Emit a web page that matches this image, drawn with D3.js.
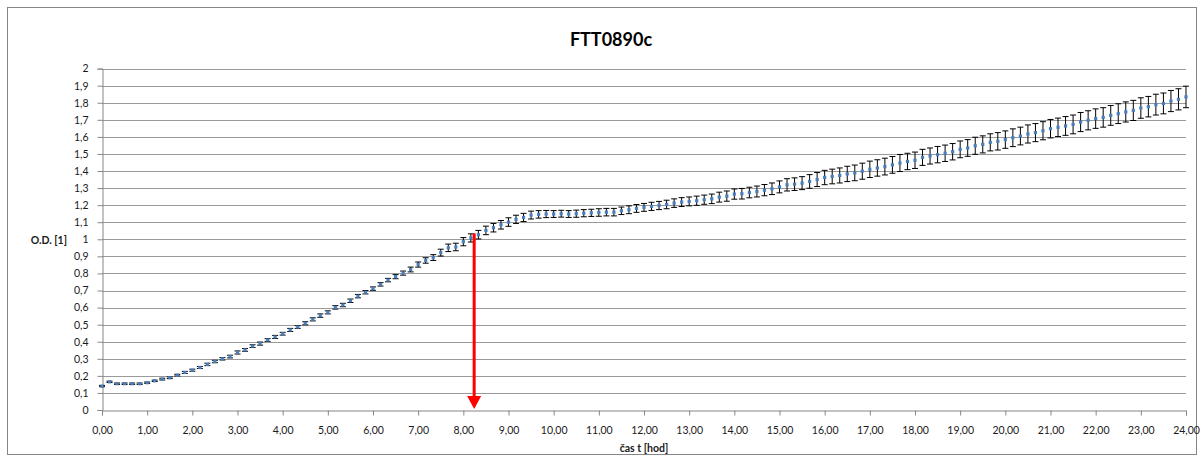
<!DOCTYPE html>
<html><head><meta charset="utf-8">
<script src="https://cdn.jsdelivr.net/npm/d3@7"></script>
<style>
html,body{margin:0;padding:0;background:#fff;}
svg{display:block;font-family:Lato,"Open Sans",sans-serif;}
</style></head>
<body>
<svg id="c" width="1204" height="462"></svg>
<script>
const title = "FTT0890c";
const xTitle = "čas t [hod]";
const yTitle = "O.D. [1]";
const stepHours = 1/6; // 10-minute readings
const odValues = [
0.14,0.165,0.154,0.154,0.154,0.154,0.16,0.171,0.181,0.189,
0.204,0.22,0.233,0.249,0.267,0.284,0.30,0.313,0.337,0.352,
0.374,0.389,0.41,0.428,0.447,0.469,0.486,0.508,0.531,0.553,
0.572,0.601,0.615,0.64,0.667,0.69,0.711,0.736,0.761,0.781,
0.802,0.823,0.852,0.876,0.893,0.922,0.95,0.955,0.986,1.008,
1.027,1.052,1.068,1.085,1.101,1.117,1.128,1.142,1.146,1.148,
1.148,1.15,1.148,1.15,1.153,1.155,1.157,1.159,1.159,1.167,
1.173,1.181,1.187,1.193,1.198,1.204,1.212,1.218,1.222,1.226,
1.232,1.237,1.247,1.253,1.265,1.267,1.274,1.28,1.288,1.296,
1.307,1.319,1.323,1.329,1.339,1.35,1.362,1.368,1.374,1.383,
1.389,1.399,1.41,1.418,1.426,1.436,1.447,1.456,1.463,1.48,
1.488,1.496,1.504,1.513,1.527,1.535,1.548,1.556,1.568,1.574,
1.584,1.595,1.605,1.617,1.625,1.636,1.648,1.656,1.664,1.673,
1.687,1.697,1.707,1.714,1.726,1.736,1.746,1.755,1.769,1.777,
1.789,1.796,1.81,1.82,1.834];
const odErrors = [
0.004,0.004,0.004,0.004,0.004,0.004,0.004,0.004,0.005,0.005,
0.005,0.006,0.006,0.006,0.007,0.007,0.007,0.008,0.009,0.008,
0.008,0.009,0.008,0.009,0.008,0.009,0.008,0.009,0.009,0.01,
0.009,0.01,0.01,0.01,0.01,0.01,0.01,0.01,0.01,0.012,
0.012,0.014,0.015,0.016,0.017,0.02,0.022,0.022,0.024,0.024,
0.025,0.025,0.025,0.025,0.025,0.024,0.024,0.023,0.022,0.021,
0.02,0.02,0.02,0.021,0.021,0.021,0.022,0.022,0.022,0.022,
0.023,0.023,0.023,0.024,0.024,0.025,0.025,0.026,0.026,0.027,
0.027,0.028,0.029,0.03,0.03,0.031,0.031,0.032,0.033,0.034,
0.035,0.036,0.037,0.038,0.04,0.041,0.042,0.043,0.044,0.045,
0.046,0.047,0.048,0.048,0.049,0.049,0.05,0.048,0.048,0.047,
0.047,0.048,0.048,0.048,0.049,0.049,0.05,0.05,0.05,0.051,
0.051,0.052,0.052,0.053,0.053,0.053,0.054,0.054,0.055,0.055,
0.056,0.056,0.057,0.057,0.058,0.058,0.059,0.059,0.06,0.06,
0.061,0.061,0.062,0.062,0.063];
const xTicks = d3.range(0, 25, 1);
const yTicks = d3.range(0, 21, 1).map(d => d/10);
const arrowX = [8.24];
const arrowY = [1.035, 0];

const svg = d3.select("#c");
const m = {l:102, r:1186, t:68.6, b:410};
const x = d3.scaleLinear().domain([0,24]).range([m.l, m.r]);
const y = d3.scaleLinear().domain([0,2]).range([m.b, m.t]);
const fmtX = d => d3.format(".2f")(d).replace(".", ",");
const fmtY = d => String(d3.format("~g")(d)).replace(".", ",");

svg.append("rect").attr("x",7.5).attr("y",7.5).attr("width",1189).attr("height",447)
  .attr("fill","#fff").attr("stroke","#868686").attr("stroke-width",1);

// gridlines
svg.append("g").selectAll("line").data(yTicks.filter(d=>d>0)).join("line")
  .attr("x1", m.l).attr("x2", m.r)
  .attr("y1", d=>Math.round(y(d))+0.5).attr("y2", d=>Math.round(y(d))+0.5)
  .attr("stroke","#9a9a9a").attr("stroke-width",1);

// axes
const yAxis = d3.axisLeft(y).tickValues(yTicks).tickFormat(fmtY).tickSize(5).tickPadding(9);
const gy = svg.append("g").attr("transform",`translate(${m.l+0.5},0)`).call(yAxis);
const xAxis = d3.axisBottom(x).tickValues(xTicks).tickFormat(fmtX).tickSize(5).tickPadding(11);
const gx = svg.append("g").attr("transform",`translate(0,${Math.round(m.b)+0.5})`).call(xAxis);
[gx, gy].forEach(g => {
  g.select(".domain").attr("stroke","#868686");
  g.selectAll(".tick line").attr("stroke","#868686");
  g.selectAll("text").attr("fill","#1a1a1a").style("font-size","10.5px").style("font-family","Lato, sans-serif");
});

// error bars
const pts = odValues.map((v,i)=>({t:i*stepHours, v, e:odErrors[i]}));
const eb = svg.append("g").attr("stroke","#000").attr("stroke-width",1);
eb.selectAll("line.v").data(pts).join("line").attr("class","v")
  .attr("x1",d=>x(d.t)).attr("x2",d=>x(d.t))
  .attr("y1",d=>y(d.v-d.e)).attr("y2",d=>y(d.v+d.e));
eb.selectAll("line.lo").data(pts).join("line").attr("class","lo")
  .attr("x1",d=>x(d.t)-3).attr("x2",d=>x(d.t)+3)
  .attr("y1",d=>y(d.v-d.e)).attr("y2",d=>y(d.v-d.e));
eb.selectAll("line.hi").data(pts).join("line").attr("class","hi")
  .attr("x1",d=>x(d.t)-3).attr("x2",d=>x(d.t)+3)
  .attr("y1",d=>y(d.v+d.e)).attr("y2",d=>y(d.v+d.e));

// markers
svg.append("g").selectAll("rect").data(pts).join("rect")
  .attr("x",d=>x(d.t)-1.6).attr("y",d=>y(d.v)-1.6)
  .attr("width",3.2).attr("height",3.2).attr("fill","#4a7ebb");

// arrow
const ax = x(arrowX[0]);
const tipY = y(arrowY[1]);
svg.append("line").attr("x1",ax).attr("x2",ax).attr("y1",y(arrowY[0])).attr("y2",tipY-12)
  .attr("stroke","#ff0000").attr("stroke-width",3);
svg.append("path").attr("d",`M${ax-7},${tipY-14}L${ax+7},${tipY-14}L${ax},${tipY-1}Z`).attr("fill","#ff0000");

// titles
svg.append("text").attr("x",611).attr("y",46).attr("text-anchor","middle")
  .style("font-size","18px").style("font-weight","bold").attr("fill","#000").text(title);
svg.append("text").attr("x",644).attr("y",452).attr("text-anchor","middle")
  .style("font-size","10.5px").style("font-weight","bold").attr("fill","#1a1a1a").text(xTitle);
svg.append("text").attr("x",67).attr("y",244).attr("text-anchor","end")
  .style("font-size","10.5px").style("font-weight","bold").attr("fill","#1a1a1a").text(yTitle);
</script>
</body></html>
